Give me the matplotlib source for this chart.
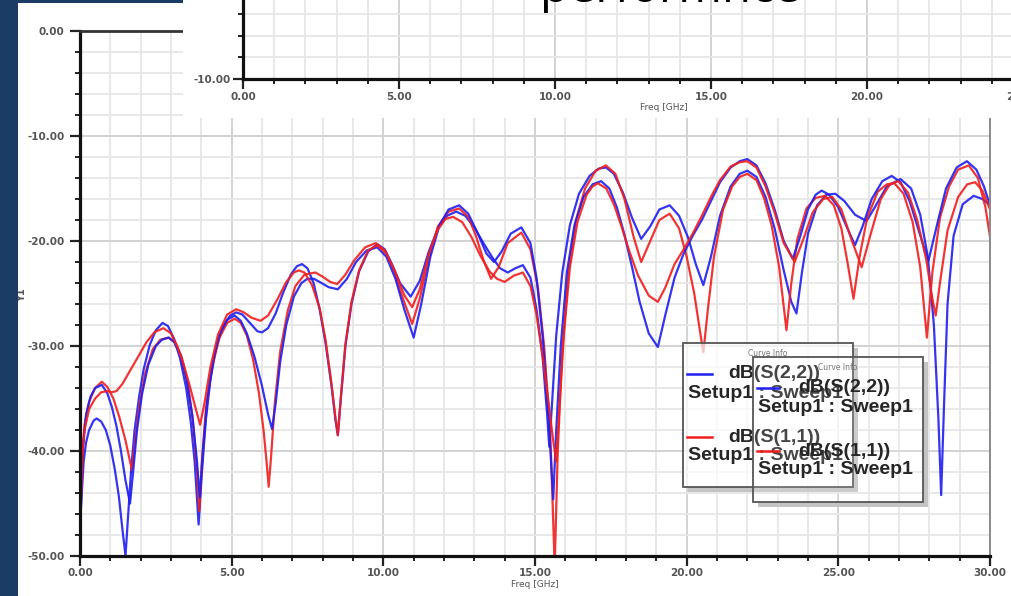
import matplotlib.pyplot as plt
from matplotlib.patches import Rectangle
from matplotlib.lines import Line2D
from matplotlib.ticker import MultipleLocator

# dB(S(2,2)) and dB(S(1,1)), two sweeps each: (Freq [GHz], dB)
s22_a = [(0.0, -47.0), (0.05, -44.5), (0.12, -41.0), (0.2, -39.2), (0.3, -38.0), (0.45, -37.1), (0.55, -36.9),
         (0.7, -37.2), (0.85, -38.0), (1.0, -39.5), (1.15, -41.8), (1.28, -44.3), (1.4, -47.5), (1.5, -50.0),
         (1.58, -46.5), (1.68, -42.0), (1.8, -38.0), (1.95, -34.8), (2.1, -32.2), (2.3, -29.9), (2.5, -28.5),
         (2.72, -27.8), (2.9, -28.1), (3.1, -29.3), (3.3, -31.2), (3.5, -34.0), (3.65, -37.2), (3.78, -41.0),
         (3.91, -47.0), (4.02, -42.0), (4.15, -37.0), (4.3, -33.2), (4.5, -30.0), (4.7, -28.2), (4.95, -27.1),
         (5.15, -26.8), (5.35, -27.0), (5.6, -27.8), (5.85, -28.6), (6.0, -28.7), (6.2, -28.3), (6.45, -26.9),
         (6.7, -24.9), (6.95, -23.2), (7.15, -22.4), (7.32, -22.2), (7.5, -22.6), (7.7, -24.0), (7.9, -26.5),
         (8.1, -29.8), (8.3, -34.0), (8.42, -37.0), (8.5, -38.5), (8.6, -35.0), (8.75, -30.0), (8.95, -26.0),
         (9.2, -22.9), (9.5, -21.0), (9.8, -20.3), (10.05, -20.8), (10.3, -22.3), (10.55, -24.0), (10.9, -25.3),
         (11.2, -23.8), (11.5, -21.0), (11.8, -18.8), (12.1, -17.6), (12.4, -17.2), (12.7, -17.6), (13.0, -18.7),
         (13.3, -20.2), (13.6, -21.6), (13.85, -22.6), (14.1, -23.0), (14.35, -22.6), (14.6, -22.3), (14.85, -23.5),
         (15.05, -26.5), (15.25, -31.0), (15.4, -36.5), (15.47, -39.6), (15.55, -36.0), (15.7, -29.0), (15.9, -23.0),
         (16.15, -18.5), (16.45, -15.5), (16.8, -13.8), (17.1, -13.1), (17.34, -13.0), (17.6, -13.6), (17.9, -15.4),
         (18.2, -17.8), (18.5, -19.8), (18.8, -18.6), (19.1, -17.0), (19.44, -16.6), (19.75, -17.6), (20.05, -19.7),
         (20.3, -22.2), (20.55, -24.2), (20.8, -21.5), (21.1, -17.6), (21.45, -14.8), (21.75, -13.6), (22.0, -13.3),
         (22.3, -13.9), (22.6, -15.8), (22.9, -18.8), (23.2, -22.8), (23.45, -25.8), (23.62, -26.9), (23.8, -23.0),
         (24.0, -19.3), (24.3, -16.6), (24.6, -15.6), (24.9, -15.5), (25.2, -16.2), (25.55, -17.5), (25.93, -18.1),
         (26.2, -16.8), (26.6, -14.8), (27.05, -14.1), (27.4, -15.0), (27.7, -17.5), (27.95, -21.5), (28.15, -28.0),
         (28.3, -37.0), (28.39, -44.2), (28.48, -36.0), (28.6, -26.0), (28.8, -19.5), (29.1, -16.5), (29.46, -15.7),
         (29.75, -16.0), (30.0, -16.6)]

s22_b = [(0.0, -50.0), (0.04, -44.0), (0.1, -39.5), (0.2, -36.5), (0.35, -34.8), (0.5, -34.0), (0.72, -33.7),
         (0.9, -34.5), (1.05, -35.8), (1.2, -37.6), (1.35, -40.0), (1.5, -42.8), (1.65, -45.0), (1.75, -42.0),
         (1.88, -38.0), (2.05, -34.5), (2.25, -31.8), (2.5, -30.0), (2.7, -29.4), (2.92, -29.2), (3.1, -29.6),
         (3.3, -30.8), (3.5, -33.0), (3.7, -36.6), (3.85, -40.8), (3.95, -44.4), (4.05, -40.0), (4.2, -35.0),
         (4.4, -31.2), (4.6, -28.9), (4.85, -27.5), (5.1, -27.1), (5.3, -27.6), (5.5, -28.8), (5.75, -31.0),
         (6.0, -33.8), (6.2, -36.5), (6.33, -37.9), (6.45, -35.5), (6.6, -31.5), (6.8, -28.0), (7.05, -25.3),
         (7.3, -24.0), (7.5, -23.6), (7.71, -23.6), (7.9, -23.9), (8.2, -24.4), (8.5, -24.6), (8.8, -23.6),
         (9.1, -22.0), (9.45, -20.9), (9.8, -20.6), (10.1, -21.5), (10.4, -23.6), (10.7, -26.6), (11.0, -29.2),
         (11.25, -26.0), (11.55, -21.5), (11.85, -18.5), (12.15, -17.0), (12.5, -16.6), (12.8, -17.4), (13.1, -19.2),
         (13.4, -21.2), (13.65, -22.0), (13.9, -21.0), (14.2, -19.3), (14.55, -18.7), (14.85, -20.2), (15.05, -23.5),
         (15.25, -29.0), (15.45, -37.0), (15.6, -44.6), (15.7, -38.0), (15.85, -30.0), (16.05, -23.0), (16.3, -18.5),
         (16.6, -15.8), (16.9, -14.6), (17.18, -14.3), (17.45, -15.0), (17.7, -16.8), (17.95, -19.4), (18.2, -22.5),
         (18.45, -25.8), (18.75, -28.8), (19.05, -30.1), (19.3, -27.0), (19.6, -23.5), (19.9, -21.2), (20.2, -19.5),
         (20.5, -18.0), (20.8, -16.2), (21.1, -14.4), (21.45, -13.0), (21.75, -12.4), (22.0, -12.2), (22.3, -12.8),
         (22.6, -14.5), (22.9, -17.0), (23.2, -20.0), (23.5, -21.7), (23.75, -19.5), (24.0, -17.0), (24.25, -15.6),
         (24.45, -15.2), (24.7, -15.6), (25.0, -16.8), (25.3, -18.8), (25.55, -20.4), (25.8, -18.6), (26.1, -16.0),
         (26.45, -14.3), (26.76, -13.8), (27.05, -14.4), (27.35, -16.2), (27.65, -19.0), (27.97, -21.9), (28.25, -18.5),
         (28.55, -15.0), (28.9, -13.0), (29.24, -12.4), (29.55, -13.2), (29.8, -14.8), (30.0, -16.6)]

s11_a = [(0.0, -52.0), (0.03, -44.0), (0.08, -40.0), (0.15, -37.5), (0.3, -35.3), (0.5, -34.0), (0.72, -33.4),
         (0.9, -33.9), (1.1, -35.0), (1.3, -36.8), (1.5, -39.0), (1.71, -41.8), (1.82, -39.0), (1.95, -35.8),
         (2.15, -32.6), (2.4, -30.3), (2.65, -29.4), (2.92, -29.2), (3.15, -29.7), (3.35, -31.0), (3.55, -33.5),
         (3.72, -37.0), (3.85, -41.5), (3.93, -45.7), (4.02, -41.0), (4.15, -36.0), (4.35, -32.0), (4.6, -29.2),
         (4.85, -27.8), (5.1, -27.4), (5.3, -27.8), (5.5, -29.0), (5.7, -31.2), (5.9, -34.5), (6.05, -38.0),
         (6.15, -41.0), (6.22, -43.4), (6.3, -40.5), (6.42, -35.5), (6.6, -30.5), (6.85, -26.6), (7.1, -24.3),
         (7.4, -23.2), (7.76, -23.0), (8.0, -23.4), (8.25, -23.9), (8.48, -24.1), (8.75, -23.2), (9.05, -21.8),
         (9.4, -20.6), (9.75, -20.2), (10.05, -20.9), (10.35, -22.8), (10.65, -25.5), (10.95, -27.9), (11.2, -25.5),
         (11.5, -21.5), (11.8, -18.6), (12.15, -17.2), (12.5, -16.9), (12.8, -17.7), (13.05, -19.5), (13.3, -21.8),
         (13.55, -23.6), (13.8, -22.5), (14.1, -20.2), (14.55, -19.2), (14.85, -20.8), (15.1, -24.5), (15.3, -30.0),
         (15.5, -38.0), (15.65, -51.0), (15.75, -40.0), (15.9, -30.5), (16.1, -23.0), (16.35, -18.0), (16.65, -15.0),
         (17.0, -13.3), (17.34, -12.8), (17.65, -13.6), (17.95, -16.0), (18.25, -19.6), (18.5, -22.0), (18.8, -20.0),
         (19.1, -18.0), (19.44, -17.4), (19.75, -18.8), (20.0, -21.5), (20.25, -25.0), (20.45, -28.8), (20.55, -30.6),
         (20.7, -26.5), (20.9, -21.5), (21.2, -17.0), (21.5, -14.8), (21.75, -13.9), (22.0, -13.6), (22.3, -14.2),
         (22.55, -15.9), (22.8, -18.5), (23.05, -22.5), (23.29, -28.5), (23.45, -24.0), (23.65, -19.8), (23.95, -16.9),
         (24.25, -15.9), (24.56, -15.7), (24.85, -16.6), (25.1, -18.8), (25.3, -22.0), (25.5, -25.5), (25.7, -21.5),
         (25.95, -17.8), (26.3, -15.3), (26.6, -14.6), (26.85, -14.5), (27.15, -15.5), (27.45, -18.2), (27.7, -22.5),
         (27.92, -29.2), (28.1, -23.0), (28.35, -17.8), (28.65, -14.8), (28.95, -13.2), (29.3, -12.8), (29.6, -14.0),
         (29.85, -16.8), (30.0, -19.6)]

s11_b = [(0.0, -52.0), (0.03, -45.0), (0.08, -40.5), (0.15, -38.0), (0.3, -36.0), (0.5, -35.0), (0.7, -34.4),
         (0.9, -34.3), (1.05, -34.4), (1.2, -34.3), (1.4, -33.6), (1.6, -32.6), (1.8, -31.6), (2.0, -30.6),
         (2.2, -29.6), (2.45, -28.7), (2.75, -28.3), (3.0, -28.8), (3.2, -30.0), (3.4, -31.6), (3.6, -33.6),
         (3.8, -35.8), (3.96, -37.5), (4.1, -35.5), (4.3, -32.0), (4.55, -28.9), (4.85, -27.0), (5.15, -26.5),
         (5.4, -26.8), (5.65, -27.3), (5.95, -27.6), (6.2, -27.1), (6.5, -25.6), (6.8, -23.9), (7.05, -23.0),
         (7.21, -22.8), (7.4, -23.0), (7.65, -24.2), (7.9, -26.4), (8.1, -29.5), (8.3, -33.8), (8.42, -36.8),
         (8.5, -38.5), (8.6, -34.8), (8.75, -29.8), (8.95, -25.8), (9.2, -22.8), (9.5, -20.9), (9.8, -20.4),
         (10.1, -21.2), (10.4, -23.0), (10.7, -25.2), (10.95, -26.3), (11.2, -24.6), (11.5, -21.2), (11.8, -18.9),
         (12.05, -17.9), (12.3, -17.7), (12.6, -18.2), (12.9, -19.6), (13.2, -21.4), (13.5, -22.9), (13.75, -23.6),
         (14.0, -23.9), (14.3, -23.3), (14.6, -23.0), (14.85, -24.3), (15.05, -27.0), (15.25, -31.0), (15.45, -35.5),
         (15.6, -39.0), (15.7, -41.0), (15.8, -36.0), (15.95, -29.0), (16.15, -22.5), (16.4, -18.2), (16.7, -15.6),
         (16.9, -14.8), (17.07, -14.5), (17.35, -15.0), (17.6, -16.5), (17.85, -18.6), (18.1, -20.9), (18.4, -23.3),
         (18.75, -25.2), (19.05, -25.8), (19.3, -24.4), (19.6, -22.2), (19.9, -20.8), (20.2, -19.3), (20.5, -17.6),
         (20.8, -15.8), (21.1, -14.2), (21.45, -12.9), (21.75, -12.5), (22.0, -12.4), (22.3, -13.0), (22.6, -14.8),
         (22.9, -17.3), (23.2, -20.2), (23.56, -22.0), (23.85, -19.8), (24.15, -17.3), (24.5, -16.0), (24.8, -15.8),
         (25.1, -17.0), (25.45, -20.0), (25.77, -22.5), (26.05, -19.5), (26.4, -16.0), (26.7, -14.6), (26.98, -14.3),
         (27.3, -15.4), (27.6, -18.0), (27.9, -21.8), (28.1, -25.5), (28.21, -27.1), (28.35, -24.0), (28.6, -19.0),
         (28.95, -15.8), (29.25, -14.6), (29.51, -14.4), (29.75, -15.2), (30.0, -17.0)]

x_ticks = [0, 5, 10, 15, 20, 25, 30]
y_ticks = [0, -10, -20, -30, -40, -50]
inset_x_ticks = [0, 5, 10, 15, 20, 25]
legend_names = ["dB(S(2,2))", "dB(S(1,1))"]
legend_setup = "Setup1 : Sweep1"

BLUE = "#1f1ff0"
RED = "#f01f1f"
W, H = 1011, 596


def fx(px):
    return px / W


def fy(py):
    return 1 - py / H


def style_axes(a, xt, yt):
    a.set_xticks(xt)
    a.set_xticklabels(["%.2f" % v for v in xt])
    a.set_yticks(yt)
    a.set_yticklabels(["%.2f" % v for v in yt])
    a.xaxis.set_minor_locator(MultipleLocator(1))
    a.yaxis.set_minor_locator(MultipleLocator(2))
    a.grid(which="major", color="#d2d2d2", lw=1.4)
    a.grid(which="minor", color="#e6e6e6", lw=1.3)
    a.set_axisbelow(True)
    a.tick_params(which="major", direction="out", length=7, width=1.6, color="#222222",
                  labelsize=7.5, labelcolor="#555555", pad=2)
    a.tick_params(which="minor", direction="out", length=3.5, width=1.4, color="#222222")
    for lbl in a.get_xticklabels() + a.get_yticklabels():
        lbl.set_fontweight("bold")
    for side in ["left", "bottom"]:
        a.spines[side].set_linewidth(2.3)
        a.spines[side].set_color("#111111")


fig = plt.figure(figsize=(W / 100, H / 100), dpi=100)
fig.patch.set_facecolor("white")

# main plot
ax = fig.add_axes([fx(80), fy(556), fx(990) - fx(80), fy(31) - fy(556)])
ax.set_xlim(0, 30)
ax.set_ylim(-50, 0)
style_axes(ax, x_ticks, y_ticks)
ax.tick_params(axis="y", which="major", pad=4)
ax.spines["top"].set_linewidth(2.0)
ax.spines["top"].set_color("#333333")
ax.spines["right"].set_linewidth(1.4)
ax.spines["right"].set_color("#8a8a8a")
ax.set_xlabel("Freq [GHz]", fontsize=6.5, color="#555555", labelpad=1)

for data, col in [(s22_a, BLUE), (s11_a, RED), (s22_b, BLUE), (s11_b, RED)]:
    f, v = zip(*data)
    ax.plot(f, v, color=col, lw=1.6, alpha=0.9)

fig.text(fx(22), fy(295), "Y1", rotation=90, fontsize=7, color="#555555",
         ha="center", va="center", fontweight="bold")


# curve info boxes (two pasted copies, the second one see-through)
def curve_box(x0, y0, x1, y1, line_len, fill_alpha, z):
    bw = fx(x1) - fx(x0)
    bh = (y1 - y0) / H
    fig.add_artist(Rectangle((fx(x1), fy(y1 + 5)), fx(5), (y1 - y0) / H,
                             transform=fig.transFigure, facecolor="#c4c4c4", edgecolor="none", zorder=z))
    fig.add_artist(Rectangle((fx(x0 + 5), fy(y1 + 5)), bw, 5 / H,
                             transform=fig.transFigure, facecolor="#c4c4c4", edgecolor="none", zorder=z))
    fig.add_artist(Rectangle((fx(x0), fy(y1)), bw, bh, transform=fig.transFigure,
                             facecolor="white", edgecolor="none", alpha=fill_alpha, zorder=z + 0.1))
    fig.add_artist(Rectangle((fx(x0), fy(y1)), bw, bh, transform=fig.transFigure,
                             facecolor="none", edgecolor="#555555", lw=1.3, zorder=z + 0.2))
    fig.text(fx((x0 + x1) / 2), fy(y0 + 10), "Curve Info", fontsize=5.5, color="#777777",
             ha="center", va="center", zorder=z + 0.3)
    rows = [(y0 + 31, y0 + 50, BLUE, legend_names[0]), (y0 + 94, y0 + 113, RED, legend_names[1])]
    for ya, yb, col, name in rows:
        fig.add_artist(Line2D([fx(x0 + 4), fx(x0 + 4 + line_len)], [fy(ya), fy(ya)],
                              transform=fig.transFigure, color=col, lw=1.8, zorder=z + 0.3))
        fig.text(fx(x0 + 45), fy(ya), name, fontsize=14, fontweight="bold", color="#262626",
                 family="Liberation Sans", ha="left", va="center", zorder=z + 0.4)
        fig.text(fx(x0 + 5), fy(yb), legend_setup, fontsize=14, fontweight="bold", color="#262626",
                 family="Liberation Sans", ha="left", va="center", zorder=z + 0.4)


curve_box(683, 343, 853, 487, 25, 0.7, 3)
curve_box(753, 357, 923, 502, 22, 0.15, 3.5)

# pasted second plot on top
cover = fig.add_axes([fx(183), fy(118), 1 - fx(183), 118 / H])
cover.set_facecolor("white")
cover.set_xticks([])
cover.set_yticks([])
for s in cover.spines.values():
    s.set_visible(False)
cover.set_zorder(5)

ins = fig.add_axes([fx(243), fy(79), 27 * 31.2 / W, 8 * 10.8 / H])
ins.set_zorder(6)
ins.set_xlim(0, 27)
ins.set_ylim(-10, -2)
style_axes(ins, inset_x_ticks, [-10])
ins.spines["top"].set_visible(False)
ins.spines["right"].set_visible(False)
ins.set_xlabel("Freq [GHz]", fontsize=6.5, color="#555555", labelpad=1)

# background strips
fig.add_artist(Rectangle((0, 0), fx(18), 1, transform=fig.transFigure,
                         facecolor="#1b3d65", edgecolor="none", zorder=8))
fig.add_artist(Rectangle((0, fy(3)), fx(183), 3 / H, transform=fig.transFigure,
                         facecolor="#1b3d65", edgecolor="none", zorder=8))

fig.text(fx(670), fy(2), "performnce", fontsize=34, family="Open Sans",
         ha="center", va="baseline", color="black", zorder=9)

fig.savefig("out.png", dpi=100)
